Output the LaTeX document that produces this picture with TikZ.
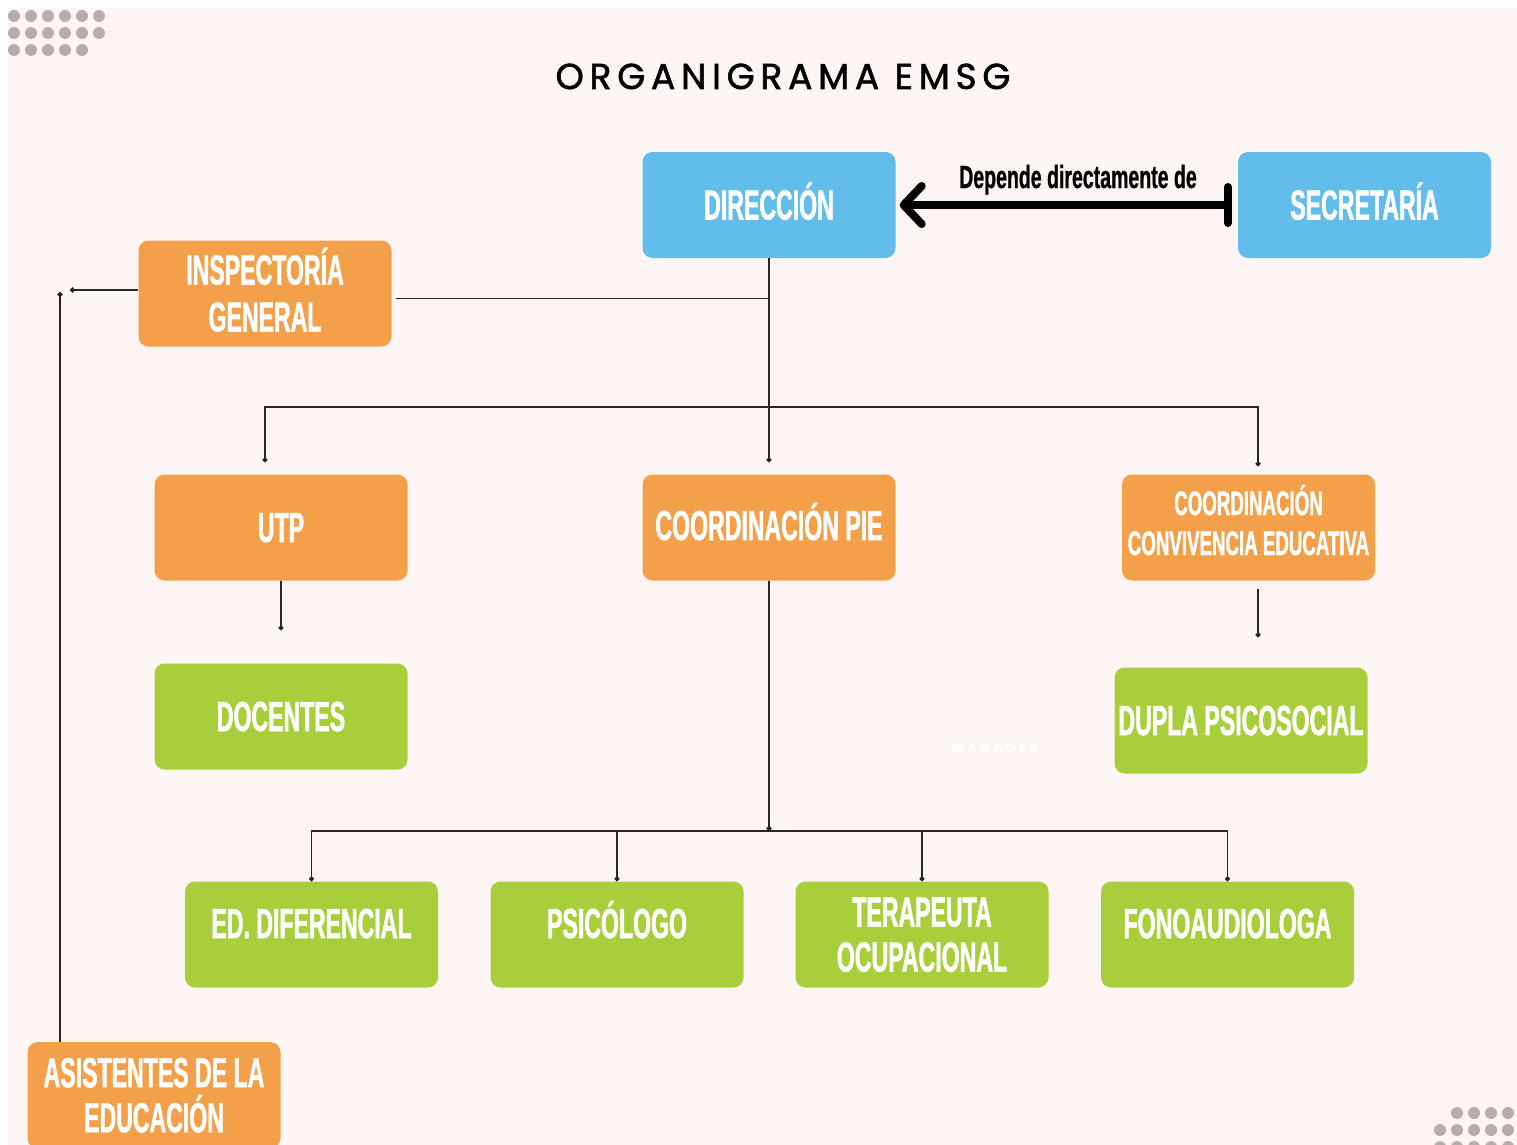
\documentclass[tikz,border=0pt]{standalone}
\usepackage{fontspec}
\setmainfont{Liberation Sans}
\newfontfamily\titlefont[LetterSpace=16,FakeBold=1.6]{Poppins}
\newfontfamily\wmfont[LetterSpace=25]{Poppins}
\newfontfamily\boxfont[FakeStretch=0.55,FakeBold=1.2]{Liberation Sans Bold}
\newfontfamily\lblfont[FakeStretch=0.61,FakeBold=0.8]{Liberation Sans Bold}
\usetikzlibrary{arrows.meta,calc}
\definecolor{bg}{HTML}{FDF5F3}
\definecolor{dotc}{HTML}{B8ADAD}
\definecolor{cblue}{HTML}{62BDEB}
\definecolor{corange}{HTML}{F4A04A}
\definecolor{cgreen}{HTML}{A8CF3B}
\tikzset{
  box/.style={rounded corners=10pt, minimum width=253pt, minimum height=106pt,
    inner sep=0pt, text=white, font=\boxfont\fontsize{42}{47}\selectfont,
    text height=29pt, text depth=0pt},
  twoline/.style={align=center, text height=#1, text depth=0pt},
  bluebox/.style={box, fill=cblue},
  orangebox/.style={box, fill=corange},
  greenbox/.style={box, fill=cgreen},
  conn/.style={draw=black!85, line width=1.4pt},
  dotend/.style={conn, -{Circle[length=5pt]}},
  deco/.style={fill=dotc},
}
\begin{document}
\begin{tikzpicture}[x=1pt,y=-1pt]
\useasboundingbox (0,0) rectangle (1517,1145);
\fill[white] (0,0) rectangle (1517,1145);
\fill[bg] (8,8) rectangle (1517,1145);
% decorative dots
\foreach \yy/\n in {16/6,33/6,50/5}{
  \foreach \i in {1,...,\n}{
    \fill[deco] ({14+17*(\i-1)},\yy) circle (6pt);
  }
}
\foreach \xx in {1457,1474,1491,1508}{\fill[deco] (\xx,1113) circle (6pt);}
\foreach \xx in {1440,1457,1474,1491,1508}{\fill[deco] (\xx,1130) circle (6pt); \fill[deco] (\xx,1147) circle (6pt);}

% title
\node[anchor=base, font=\titlefont\fontsize{36}{42}\selectfont] (title) at (783,89) {ORGANIGRAMA EMSG};
% watermark
\node[text=white, font=\wmfont\bfseries\fontsize{13}{15}\selectfont] (wm) at (995,748) {MANAGER};

% boxes
\node[bluebox] (dir) at (769,205) {DIRECCIÓN};
\node[bluebox] (sec) at (1364.5,205) {SECRETARÍA};
\node[orangebox, twoline=76pt] (insp) at (265,293.5) {INSPECTORÍA\\GENERAL};
\node[orangebox] (utp) at (281,527.5) {UTP};
\node[orangebox, text depth=4pt] (pie) at (769,527.5) {COORDINACIÓN PIE};
\node[orangebox, font=\boxfont\fontsize{34}{40}\selectfont, align=center, text height=64pt, text depth=9pt] (conv) at (1248.5,527.5) {COORDINACIÓN\\CONVIVENCIA EDUCATIVA};
\node[greenbox] (doc) at (281,716.5) {DOCENTES};
\node[greenbox] (dupla) at (1241,720.5) {DUPLA PSICOSOCIAL};
\node[greenbox, text depth=22pt] (ed) at (311.5,934.5) {ED. DIFERENCIAL};
\node[greenbox, text depth=22pt] (psi) at (617,934.5) {PSICÓLOGO};
\node[greenbox, twoline=74pt] (ter) at (922,934.5) {TERAPEUTA\\[-2pt]OCUPACIONAL};
\node[greenbox, text depth=22pt] (fono) at (1227.5,934.5) {FONOAUDIOLOGA};
\node[orangebox, twoline=74pt, minimum height=106pt, anchor=north] (asist) at (154,1042) {ASISTENTES DE LA\\[-2pt]EDUCACIÓN};

% dependency arrow
\draw[line width=8pt, line cap=round,
  {Bar[width=36pt,round]}-{Straight Barb[length=18pt,width=38pt,round]}]
  ($(sec.west)+(-6,0)$) -- ($(dir.east)+(4,0)$);
\node[font=\lblfont\fontsize{32}{36}\selectfont, anchor=base] (lbl) at (1078,188) {Depende directamente de};

% connectors
\coordinate (h1) at (769,407);
\coordinate (h2) at (769,831);
\coordinate (a1) at (60,292);
\coordinate (a2) at (70,290);
\draw[dotend] (dir.south) -- ($(pie.north)+(0,-12)$);
\draw[conn] ($(insp.east)+(4,5)$) -| (dir.south);
\draw[dotend] (h1) -| ($(utp.north)+(-16,-12)$);
\draw[dotend] (h1) -| ($(conv.north)+(9.5,-8)$);
\draw[dotend] (utp.south) -- ($(doc.north)+(0,-33)$);
\draw[dotend] ($(conv.south)+(9.5,8)$) -- ($(dupla.north)+(17,-30)$);
\draw[dotend] (pie.south) -- (h2);
\draw[dotend] (h2) -| (ed.north);
\draw[dotend] (h2) -| (psi.north);
\draw[dotend] (h2) -| (ter.north);
\draw[dotend] (h2) -| (fono.north);
\draw[dotend] (asist.north west -| a1) -- (a1);
\draw[dotend] (insp.west |- a2) -- (a2);
\end{tikzpicture}
\end{document}
